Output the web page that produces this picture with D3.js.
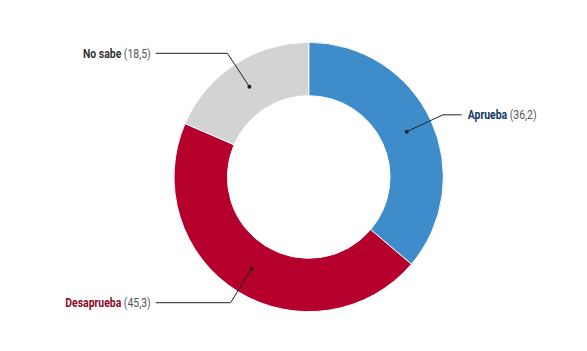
<!doctype html>
<html lang="es">
<head>
  <meta charset="utf-8">
  <title>Donut - D3</title>
  <style>
    body { margin: 0; background: #fff; }
    text { font-family: Roboto, "Noto Sans", sans-serif; }
  </style>
</head>
<body>
  <svg></svg>
  <script src="https://cdn.jsdelivr.net/npm/d3@7"></script>
  <script>
    const categories = ['Aprueba', 'Desaprueba', 'No sabe'];
    const values = [36.2, 45.3, 18.5];

    const width = 587;
    const height = 351;
    const cx = 308.7, cy = 177;
    const outerR = 134.7, innerR = 81.3;

    const svg = d3.select('svg')
      .attr('width', width)
      .attr('height', height)
      .attr('viewBox', [0, 0, width, height]);

    const fill = d3.scaleOrdinal()
      .domain(categories)
      .range(['#3e8dca', '#b5002e', '#d3d3d3']);

    const labelColor = d3.scaleOrdinal()
      .domain(categories)
      .range(['#0f3a63', '#8a0a26', '#333333']);

    const data = categories.map((c, i) => ({ name: c, value: values[i] }));

    const pie = d3.pie().sort(null).value(d => d.value);
    const arc = d3.arc().innerRadius(innerR).outerRadius(outerR);
    const arcs = pie(data);

    const g = svg.append('g')
      .attr('transform', 'translate(' + cx + ',' + cy + ')');

    // 扇区
    g.selectAll('path.slice')
      .data(arcs)
      .enter()
      .append('path')
      .attr('class', 'slice')
      .attr('d', arc)
      .attr('fill', d => fill(d.data.name))
      .attr('stroke', '#fff')
      .attr('stroke-width', 1);

    // 引线
    const elbowR = 148;
    const lineEnd = 153;
    const fmt = v => String(v).replace('.', ',');

    arcs.forEach(d => {
      const mid = (d.startAngle + d.endAngle) / 2;
      const [px, py] = arc.centroid(d);
      const ex = Math.sin(mid) * elbowR;
      const ey = -Math.cos(mid) * elbowR;
      const right = ex > 0;
      const hx = right ? lineEnd : -lineEnd;

      g.append('polyline')
        .attr('points', [[px, py], [ex, ey], [hx, ey]].map(p => p.join(',')).join(' '))
        .attr('fill', 'none')
        .attr('stroke', '#222')
        .attr('stroke-width', 1);

      g.append('circle')
        .attr('cx', px)
        .attr('cy', py)
        .attr('r', 2)
        .attr('fill', '#222');

      // 标签文字（横向压缩，接近窄体字）
      const t = g.append('text')
        .attr('transform', 'translate(' + (right ? hx + 6 : hx - 5) + ',' + ey + ') scale(0.87,1)')
        .attr('dy', '0.36em')
        .attr('font-size', 12)
        .attr('text-anchor', right ? 'start' : 'end');

      t.append('tspan')
        .attr('font-weight', 'bold')
        .attr('fill', labelColor(d.data.name))
        .text(d.data.name);

      t.append('tspan')
        .attr('fill', '#555')
        .text(' (' + fmt(d.data.value) + ')');
    });
  </script>
</body>
</html>
